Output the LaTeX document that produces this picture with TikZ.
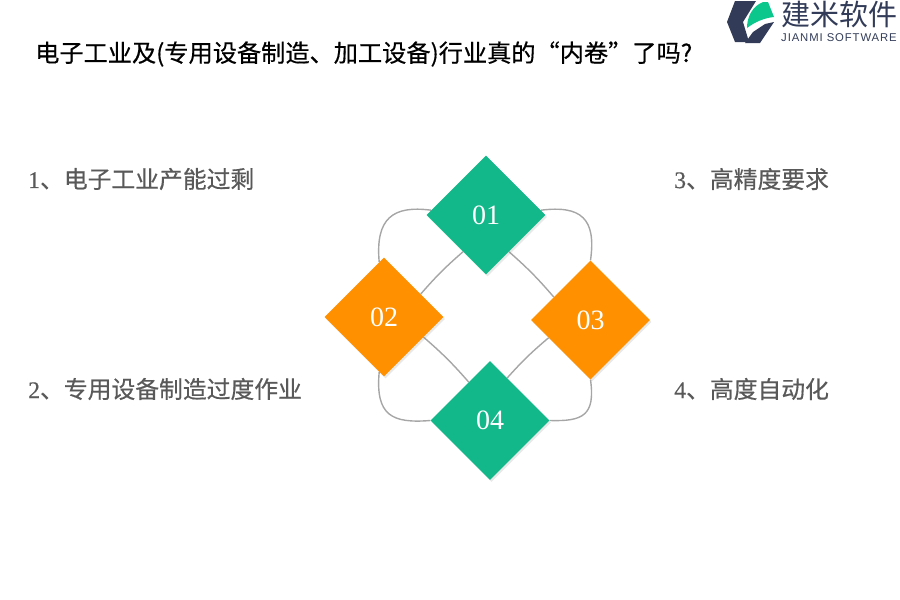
\documentclass[tikz,border=0pt]{standalone}
\usepackage{fontspec}
\setmainfont{Liberation Serif}
\newfontfamily\cjk[FakeBold=0.5]{Noto Sans CJK SC}
\newfontfamily\numfont[FakeBold=0.4]{Liberation Serif}
\newfontfamily\brandfont{Noto Sans CJK SC}
\newfontfamily\logofont[LetterSpace=8]{Liberation Sans}
\usetikzlibrary{backgrounds, shapes.geometric, shadows}
\definecolor{gemgreen}{HTML}{13B88A}
\definecolor{gemorange}{HTML}{FF9000}
\definecolor{ringgray}{HTML}{A6A6A6}
\definecolor{labelgray}{HTML}{595959}
\definecolor{logonavy}{HTML}{323C58}
\definecolor{logogreen}{HTML}{0CC78C}
\tikzset{
  gem/.style     = {diamond, aspect=1, inner sep=0pt, minimum size=119pt, text=white,
                    font=\fontsize{28}{28}\selectfont,
                    drop shadow={opacity=0.18, shadow xshift=1.5pt, shadow yshift=-2pt}},
  ring/.style    = {draw=ringgray, line width=1.4pt},
  label/.style   = {anchor=west, text=labelgray, inner sep=0pt,
                    font=\fontsize{23.8}{24}\selectfont},
  title/.style   = {anchor=west, text=black, inner sep=0pt,
                    font=\fontsize{24.2}{25}\selectfont}
}

\begin{document}
\begin{tikzpicture}[x=1pt, y=-1pt]
  \useasboundingbox (0,0) rectangle (900,600);

  \node[title] (heading) at (35,54)
    {\cjk 电子工业及(专用设备制造、加工设备)行业真的“内卷”了吗?};

  \node[gem, fill=gemgreen]  (n01) at (486,215) {01};
  \node[gem, fill=gemorange] (n02) at (384,317) {02};
  \node[gem, fill=gemorange] (n03) at (590.5,320) {03};
  \node[gem, fill=gemgreen]  (n04) at (490,420.5) {04};

  \begin{scope}[on background layer]
    \draw[ring] (n01.175) .. controls +(-38,-5) and +(-4,-44) .. (n02.95);
    \draw[ring] (n01.5) .. controls +(40,-5) and +(6,-42) .. (n03.north);
    \draw[ring] (n02.265) .. controls +(-4,44) and +(-38,3) .. (n04.west);
    \draw[ring] (n03.south) .. controls +(5,36) and +(33,1) .. (n04.east);

    \draw[ring] (n01.238) to[bend right=4] (n02.32);
    \draw[ring] (n01.302) to[bend left=4] (n03.148);
    \draw[ring] (n02.333) to[bend left=4] (n04.119);
    \draw[ring] (n03.203) to[bend right=4] (n04.68);
  \end{scope}

  \node[label] (item1) at (28,179) {{\numfont 1}\cjk 、电子工业产能过剩};
  \node[label] (item2) at (28,389) {{\numfont 2}\cjk 、专用设备制造过度作业};
  \node[label] (item3) at (674,179) {{\numfont 3}\cjk 、高精度要求};
  \node[label] (item4) at (674,389) {{\numfont 4}\cjk 、高度自动化};

  % logo
  \fill[logonavy] (735,1) -- (756,1) -- (743,22) -- (749,42) -- (735,42) -- (727,22) -- cycle;
  \fill[logonavy] (745,43) -- (760,43) -- (774,22) -- (765,24) -- (753,32) -- cycle;
  \fill[logogreen] (747,28) .. controls (747,16) and (753,6) .. (763,2)
    -- (768,2) -- (774,17) .. controls (764,18) and (755,22) .. (747,28) -- cycle;
  \node[anchor=west, inner sep=0pt, text=logonavy, font=\fontsize{29}{29}\selectfont]
    (brand) at (781,14) {\brandfont 建米软件};
  \node[anchor=west, inner sep=0pt, text=logonavy, font=\fontsize{11.3}{12}\selectfont]
    (brandsub) at (781,38) {\logofont JIANMI SOFTWARE};
\end{tikzpicture}
\end{document}
